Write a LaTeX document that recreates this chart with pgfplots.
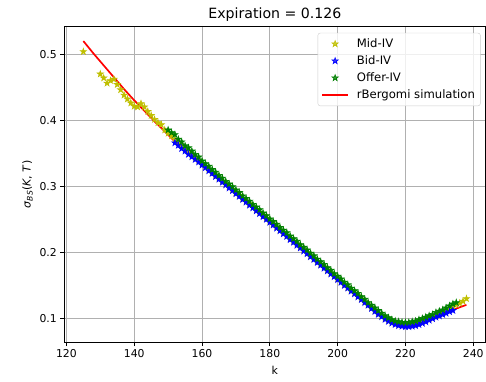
\documentclass[border=0pt]{standalone}
\usepackage{fontspec}
\setmainfont{DejaVu Sans}
\usepackage{pgfplots}
\pgfplotsset{compat=1.18}
\definecolor{mplY}{rgb}{0.75,0.75,0}
\definecolor{mplB}{rgb}{0,0,1}
\definecolor{mplG}{rgb}{0,0.5,0}
\definecolor{mplR}{rgb}{1,0,0}
\definecolor{gridgray}{rgb}{0.69,0.69,0.69}
\pgfdeclareplotmark{fstar}{%
  \pgfpathmoveto{\pgfpointpolar{90}{\pgfplotmarksize}}%
  \pgfpathlineto{\pgfpointpolar{126}{0.382\pgfplotmarksize}}%
  \pgfpathlineto{\pgfpointpolar{162}{\pgfplotmarksize}}%
  \pgfpathlineto{\pgfpointpolar{198}{0.382\pgfplotmarksize}}%
  \pgfpathlineto{\pgfpointpolar{234}{\pgfplotmarksize}}%
  \pgfpathlineto{\pgfpointpolar{270}{0.382\pgfplotmarksize}}%
  \pgfpathlineto{\pgfpointpolar{306}{\pgfplotmarksize}}%
  \pgfpathlineto{\pgfpointpolar{342}{0.382\pgfplotmarksize}}%
  \pgfpathlineto{\pgfpointpolar{18}{\pgfplotmarksize}}%
  \pgfpathlineto{\pgfpointpolar{54}{0.382\pgfplotmarksize}}%
  \pgfpathclose
  \pgfusepathqfillstroke
}
\begin{document}
\begin{tikzpicture}
\begin{axis}[
  name=ax,
  width=422bp, height=316bp, scale only axis,
  xmin=119.35, xmax=243.65, ymin=0.064, ymax=0.543,
  xtick={120,140,...,240}, ytick={0.1,0.2,0.3,0.4,0.5},
  yticklabel style={/pgf/number format/fixed,/pgf/number format/precision=1},
  grid=major, grid style={draw=gridgray, line width=0.9bp},
  axis line style={line width=0.9bp},
  tick style={black, line width=0.9bp}, tick align=outside, tick pos=left,
  major tick length=3.9bp,
  /pgf/number format/assume math mode=true,
  ticklabel style={font=\fontsize{10.9}{12}\selectfont},
  label style={font=\fontsize{11}{12}\selectfont},
  xlabel={k}, ylabel={{\itshape σ}\textsubscript{\itshape BS}(\textit{K}, \textit{T})},
  xlabel style={yshift=-2bp},
  every axis title shift=0pt,
  title={Expiration = 0.126},
  title style={font=\fontsize{14.2}{16}\selectfont, at={(0.5,1)}, anchor=base, yshift=7.6bp},
  legend cell align=left,
  legend image code/.code={\draw[mark repeat=2,mark phase=2] plot coordinates {(0bp,0bp) (13bp,0bp) (26bp,0bp)};},
  legend style={at={(1,1)}, xshift=-5bp, yshift=-6.3bp, anchor=north east,
    draw=black!20, rounded corners=2.5bp, fill=white, fill opacity=0.8, text opacity=1,
    font=\fontsize{11.7}{13}\selectfont, row sep=3.7bp, inner xsep=3.5bp, inner ysep=4.2bp,
    nodes={inner xsep=2bp, inner ysep=1.5bp},
    /tikz/every odd column/.append style={column sep=6bp}},
  mark size=3.3bp,
]
\addplot[only marks, mark=fstar, color=mplY, mark options={line width=0.6bp}] coordinates {
(125,0.505) (130,0.471) (131,0.465) (132,0.457) (133,0.461) (134,0.463) (135,0.455) (136,0.447)
(137,0.439) (138,0.433) (139,0.427) (140,0.422) (141,0.421) (142,0.426) (143,0.421) (144,0.414)
(145,0.408) (146,0.402) (147,0.397) (148,0.394) (149,0.386) (150,0.381) (151,0.377)
(152,0.3715) (153,0.367) (154,0.3625) (155,0.357) (156,0.3535) (157,0.349) (158,0.344) (159,0.340)
(160,0.3345) (161,0.3305) (162,0.3265) (163,0.3215) (164,0.3175) (165,0.313) (166,0.3085) (167,0.304)
(168,0.300) (169,0.2955) (170,0.291) (171,0.287) (172,0.282) (173,0.278) (174,0.274) (175,0.269)
(176,0.265) (177,0.261) (178,0.256) (179,0.252) (180,0.2475) (181,0.243) (182,0.239) (183,0.234)
(184,0.230) (185,0.226) (186,0.221) (187,0.217) (188,0.213) (189,0.208) (190,0.204) (191,0.200)
(192,0.195) (193,0.191) (194,0.1865) (195,0.182) (196,0.178) (197,0.1735) (198,0.169) (199,0.1645)
(200,0.1605) (201,0.156) (202,0.1515) (203,0.147) (204,0.1425) (205,0.1385) (206,0.134) (207,0.1295)
(208,0.1255) (209,0.1205) (210,0.1165) (211,0.112) (212,0.108) (213,0.104) (214,0.1005) (215,0.0975)
(216,0.0945) (217,0.0925) (218,0.091) (219,0.090) (220,0.090) (221,0.090) (222,0.0905) (223,0.0915)
(224,0.0935) (225,0.0955) (226,0.0975) (227,0.0995) (228,0.102) (229,0.1045) (230,0.1065) (231,0.109)
(232,0.112) (233,0.115) (234,0.1175) (235,0.121) (236,0.123) (237,0.126) (238,0.130)
};
\addlegendentry{Mid-IV}
\addplot[only marks, mark=fstar, color=mplB, mark options={line width=0.6bp}] coordinates {
(152,0.3665) (153,0.3627) (154,0.3578) (155,0.3540) (156,0.3490) (157,0.3453) (158,0.3413) (159,0.3374)
(160,0.3326) (161,0.3287) (162,0.3240) (163,0.3200) (164,0.3153) (165,0.3113) (166,0.3066) (167,0.3026)
(168,0.2979) (169,0.2939) (170,0.2892) (171,0.2852) (172,0.2805) (173,0.2765) (174,0.2718) (175,0.2678)
(176,0.2631) (177,0.2591) (178,0.2544) (179,0.2504) (180,0.2457) (181,0.2417) (182,0.2370) (183,0.2330)
(184,0.2283) (185,0.2243) (186,0.2196) (187,0.2156) (188,0.2109) (189,0.2069) (190,0.2022) (191,0.1982)
(192,0.1935) (193,0.1895) (194,0.1848) (195,0.1808) (196,0.1761) (197,0.1721) (198,0.1674) (199,0.1634)
(200,0.1587) (201,0.1547) (202,0.1500) (203,0.1460) (204,0.1413) (205,0.1373) (206,0.1326) (207,0.1286)
(208,0.1239) (209,0.1199) (210,0.1150) (211,0.1105) (212,0.106) (213,0.1025) (214,0.0985) (215,0.0955)
(216,0.0928) (217,0.0907) (218,0.089) (219,0.088) (220,0.0875) (221,0.0875) (222,0.088) (223,0.089)
(224,0.0905) (225,0.0925) (226,0.0948) (227,0.0972) (228,0.0995) (229,0.1018) (230,0.1038) (231,0.1058)
(232,0.1078) (233,0.1102) (234,0.112)
};
\addlegendentry{Bid-IV}
\addplot[only marks, mark=fstar, color=mplG, mark options={line width=0.6bp}] coordinates {
(150,0.386) (151,0.382) (152,0.379) (153,0.372) (154,0.368) (155,0.362) (156,0.359) (157,0.354)
(158,0.349) (159,0.345) (160,0.339) (161,0.335) (162,0.331) (163,0.326) (164,0.322) (165,0.317)
(166,0.313) (167,0.308) (168,0.304) (169,0.300) (170,0.295) (171,0.291) (172,0.286) (173,0.282)
(174,0.278) (175,0.273) (176,0.269) (177,0.265) (178,0.260) (179,0.256) (180,0.251) (181,0.247)
(182,0.243) (183,0.238) (184,0.234) (185,0.230) (186,0.225) (187,0.221) (188,0.217) (189,0.212)
(190,0.208) (191,0.204) (192,0.199) (193,0.195) (194,0.190) (195,0.186) (196,0.182) (197,0.177)
(198,0.173) (199,0.168) (200,0.164) (201,0.160) (202,0.155) (203,0.151) (204,0.146) (205,0.142)
(206,0.138) (207,0.133) (208,0.129) (209,0.124) (210,0.120) (211,0.116) (212,0.112) (213,0.108)
(214,0.104) (215,0.101) (216,0.098) (217,0.096) (218,0.095) (219,0.094) (220,0.094) (221,0.094)
(222,0.095) (223,0.096) (224,0.098) (225,0.100) (226,0.102) (227,0.104) (228,0.106) (229,0.109)
(230,0.111) (231,0.113) (232,0.116) (233,0.119) (234,0.122) (235,0.124)
};
\addlegendentry{Offer-IV}
\addplot[color=mplR, line width=1.7bp, no marks,
  legend image code/.code={\draw[mplR, line width=1.7bp] (0bp,0bp) -- (26bp,0bp);}] coordinates {
(125,0.521) (128,0.502) (131,0.484) (134,0.466) (137,0.448) (140,0.431) (143,0.415) (146,0.399)
(149,0.384) (152,0.3683) (155,0.3553) (160,0.3335) (165,0.3118) (170,0.2900) (175,0.2683)
(180,0.2465) (185,0.2248) (190,0.2030) (195,0.1813) (200,0.1595) (205,0.1378) (208,0.1247)
(210,0.116) (211,0.112) (212,0.108) (213,0.1045) (214,0.101) (215,0.098) (216,0.0955) (217,0.0935)
(218,0.092) (219,0.0913) (220,0.091) (221,0.091) (222,0.0915) (223,0.0925) (224,0.094)
(226,0.0978) (228,0.1016) (230,0.1054) (232,0.1092) (234,0.113) (236,0.1168) (238,0.1206)
};
\addlegendentry{rBergomi simulation}
\end{axis}
\pgfresetboundingbox
\useasboundingbox ([xshift=-64.3bp,yshift=-39.2bp]ax.south west) rectangle ([xshift=0.4bp,yshift=26.6bp]ax.north east);
\end{tikzpicture}
\end{document}
